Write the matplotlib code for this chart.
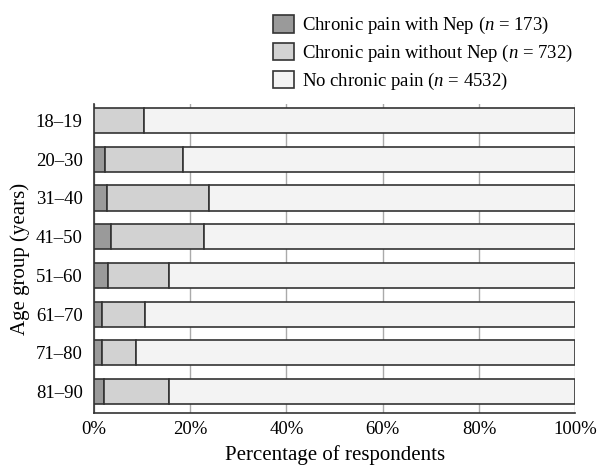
import matplotlib.pyplot as plt
import numpy as np

plt.rcParams["font.family"] = ["Liberation Serif", "DejaVu Serif"]
plt.rcParams["mathtext.fontset"] = "custom"
plt.rcParams["mathtext.it"] = "Liberation Serif:italic"
plt.rcParams["mathtext.rm"] = "Liberation Serif"

# data (percent of respondents per age group)
age_groups = ["18–19", "20–30", "31–40", "41–50", "51–60", "61–70", "71–80", "81–90"]
with_nep = [0.0, 2.4, 2.7, 3.6, 2.9, 1.7, 1.7, 2.1]
without_nep = [10.4, 16.2, 21.3, 19.2, 12.8, 9.0, 7.1, 13.6]
no_pain = [100 - a - b for a, b in zip(with_nep, without_nep)]

labels = [
    r"Chronic pain with Nep ($\it{n}$ = 173)",
    r"Chronic pain without Nep ($\it{n}$ = 732)",
    r"No chronic pain ($\it{n}$ = 4532)",
]
colors = ["#9a9a9a", "#d2d2d2", "#f3f3f3"]

fig = plt.figure(figsize=(5.98, 4.65), dpi=100)
ax = fig.add_axes([0.157, 0.112, 0.805, 0.664])

y = np.arange(len(age_groups))
left = np.zeros(len(age_groups))
for vals, col, lab in zip([with_nep, without_nep, no_pain], colors, labels):
    ax.barh(y, vals, left=left, height=0.65, color=col, edgecolor="#333333",
            linewidth=1.2, label=lab, zorder=3)
    left += np.array(vals)

ax.set_xlim(0, 100)
ax.set_ylim(len(age_groups) - 0.45, -0.42)
ax.set_yticks(y)
ax.set_yticklabels(age_groups)
ax.set_xticks([0, 20, 40, 60, 80, 100])
ax.set_xticklabels(["0%", "20%", "40%", "60%", "80%", "100%"])
ax.tick_params(axis="y", length=0, labelsize=13.5, pad=8)
ax.tick_params(axis="x", length=0, labelsize=13.5, pad=6)
ax.grid(axis="x", color="#aaaaaa", linewidth=1, zorder=0)

for s in ["top", "right"]:
    ax.spines[s].set_visible(False)
ax.spines["left"].set_color("#333333")
ax.spines["bottom"].set_color("#333333")
ax.spines["left"].set_linewidth(1.2)
ax.spines["bottom"].set_linewidth(1.2)

ax.set_xlabel("Percentage of respondents", fontsize=15, labelpad=5)
ax.set_ylabel("Age group (years)", fontsize=15, labelpad=4)

fig.legend(loc="upper left", bbox_to_anchor=(0.456, 0.968), frameon=False,
           fontsize=13.5, handlelength=1.12, handleheight=1.07,
           handletextpad=0.43, labelspacing=0.35, borderpad=0,
           borderaxespad=0)

plt.savefig("out.png", dpi=100)
